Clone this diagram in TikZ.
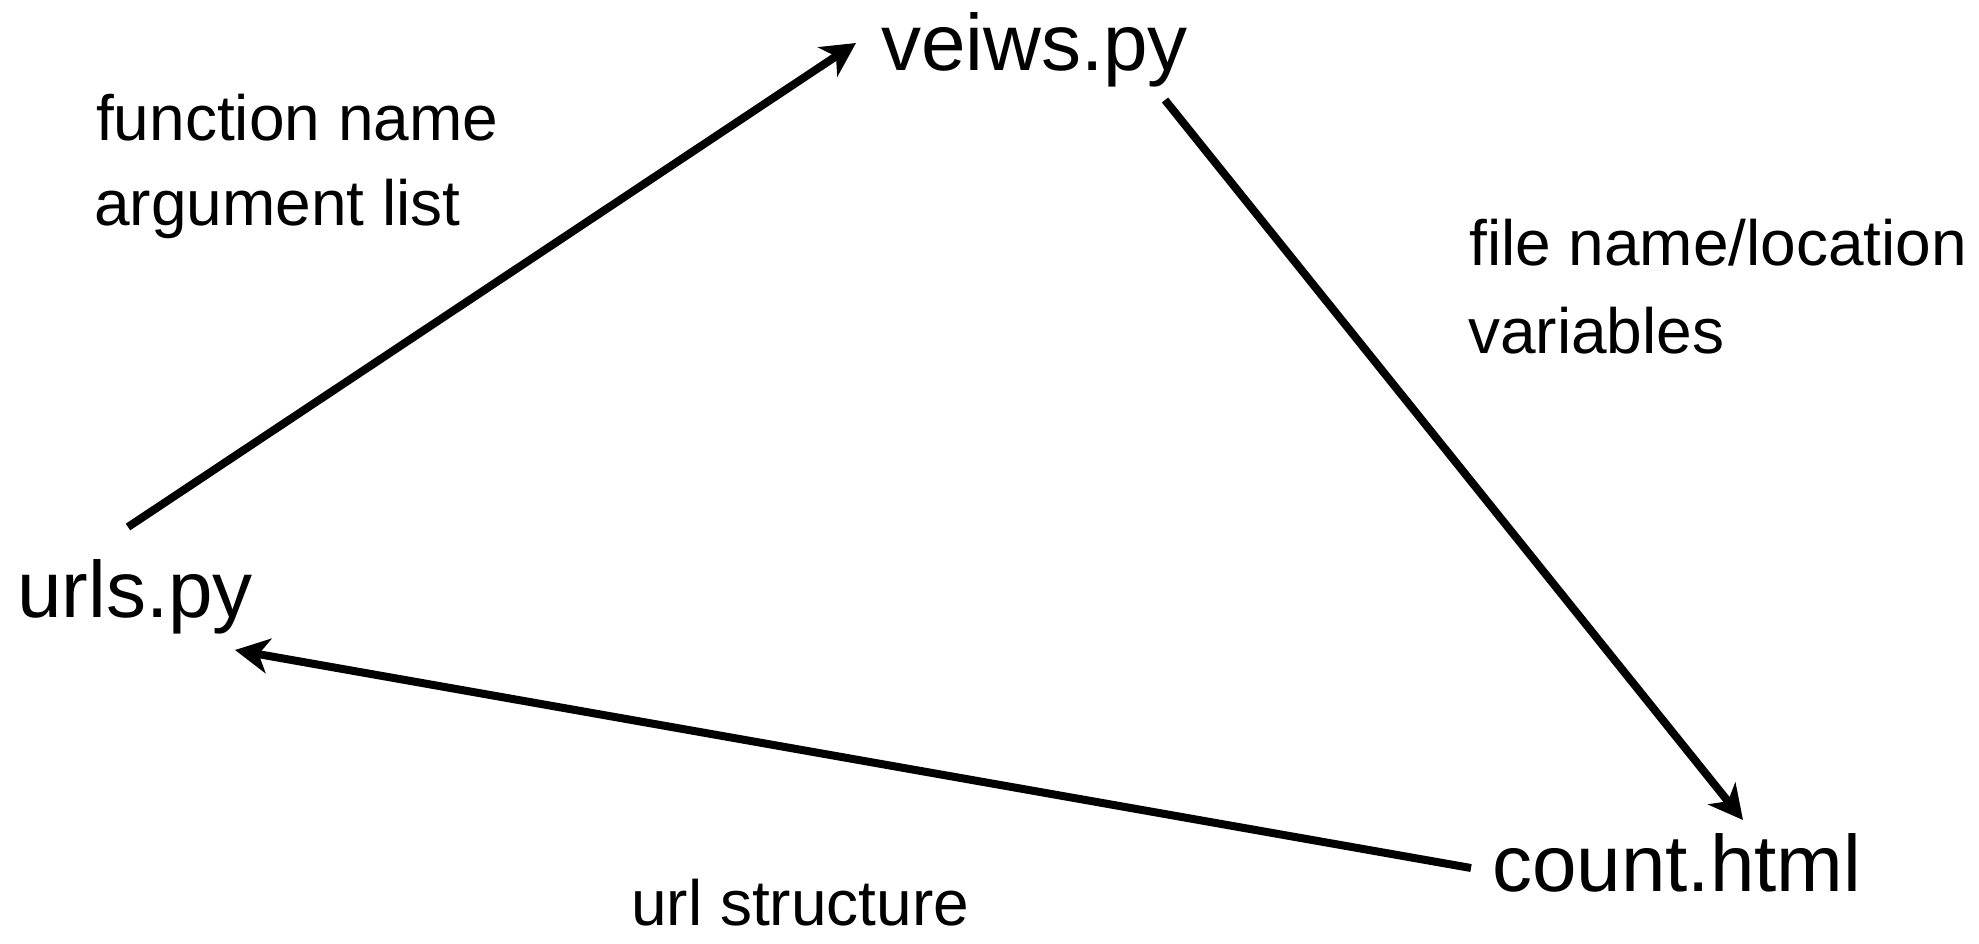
\documentclass[tikz,border=0pt]{standalone}
\usepackage{fontspec}
\setmainfont{Liberation Sans}
\usetikzlibrary{arrows.meta}
\begin{document}
\begin{tikzpicture}[x=1pt,y=-1pt,
  file/.style={inner sep=0pt,anchor=base west,font=\fontsize{80}{96}\selectfont},
  lbl/.style={inner sep=0pt,anchor=base west,font=\fontsize{64}{76}\selectfont},
  link/.style={line width=8pt,-{Stealth[length=34pt,width=35pt,inset=10pt]}}]
\useasboundingbox (0,0) rectangle (1979,943);
\node[file] (veiws) at (881,70) {veiws.py};
\node[file] (urls) at (17,617) {urls.py};
\node[file] (count) at (1492,891) {count.html};
\node[lbl] (fn) at (96,140) {function name};
\node[lbl] (al) at (94,225) {argument list};
\node[lbl] (fl) at (1469,265) {file name/location};
\node[lbl] (vr) at (1468,353) {variables};
\node[lbl] (us) at (631,925) {url structure};
\coordinate (e1s) at (128,527);
\coordinate (e1t) at (856,43);
\coordinate (e2s) at (1165,100);
\coordinate (e2t) at (1743,820);
\coordinate (e3s) at (1471,868);
\coordinate (e3t) at (235,650);
\draw[link] (e1s) -- (e1t);
\draw[link] (e2s) -- (e2t);
\draw[link] (e3s) -- (e3t);
\end{tikzpicture}
\end{document}
